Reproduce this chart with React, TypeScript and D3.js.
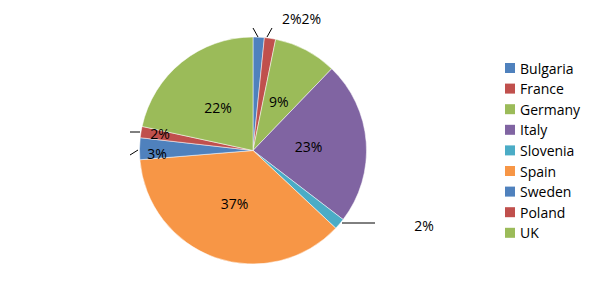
import React from "react";
import * as d3 from "d3";

const categories = ["Bulgaria", "France", "Germany", "Italy", "Slovenia", "Spain", "Sweden", "Poland", "UK"];
const values = [1.6, 1.6, 9.0, 23.2, 1.6, 36.7, 3.1, 1.6, 21.6];
const labels = ["2%", "2%", "9%", "23%", "2%", "37%", "3%", "2%", "22%"];
const colors = ["#4F81BD", "#C0504D", "#9BBB59", "#8064A2", "#4BACC6", "#F79646", "#4F81BD", "#C0504D", "#9BBB59"];

const W = 600, H = 301;
const cx = 253, cy = 150.5, R = 113.5;
const font = "'Open Sans', 'Liberation Sans', sans-serif";

export default function App() {
  const pie = d3.pie<number>().value(d => d).sort(null);
  const arcs = pie(values);
  const arc = d3.arc<d3.PieArcDatum<number>>().innerRadius(0).outerRadius(R);
  const inner = d3.arc<d3.PieArcDatum<number>>().innerRadius(R * 0.49).outerRadius(R * 0.49);

  const outsideIdx = [0, 1, 4];
  const innerFixed: Record<number, [number, number]> = {
    6: [157, 153],
    7: [160, 133],
  };

  return (
    <svg width={W} height={H} style={{ position: "absolute", left: 0, top: 0 }}>
      <rect width={W} height={H} fill="#fff" />
      <g transform={`translate(${cx},${cy})`}>
        {arcs.map((a, i) => (
          <path key={i} d={arc(a) || ""} fill={colors[i]} stroke="#fff" strokeWidth={0.5} />
        ))}
      </g>
      {arcs.map((a, i) => {
        if (outsideIdx.includes(i) || innerFixed[i]) return null;
        const [x, y] = inner.centroid(a);
        return (
          <text key={i} x={cx + x} y={cy + y} textAnchor="middle" dominantBaseline="central" fontFamily={font} fontSize={14} fill="#000">
            {labels[i]}
          </text>
        );
      })}
      {/* leader lines */}
      <polyline points="258,37 253,28" fill="none" stroke="#000" strokeWidth={1} />
      <polyline points="267,37 272,28" fill="none" stroke="#000" strokeWidth={1} />
      <polyline points="342,223 375,223" fill="none" stroke="#000" strokeWidth={1} />
      <polyline points="130,155 138,150" fill="none" stroke="#000" strokeWidth={1} />
      <polyline points="130,132 140,132" fill="none" stroke="#000" strokeWidth={1} />
      {/* 2%2% for Bulgaria/France */}
      <text x={282} y={18} dominantBaseline="central" fontFamily={font} fontSize={14} fill="#000">
        {labels[0] + labels[1]}
      </text>
      <text x={424} y={225} textAnchor="middle" dominantBaseline="central" fontFamily={font} fontSize={14} fill="#000">
        {labels[4]}
      </text>
      <text x={innerFixed[6][0]} y={innerFixed[6][1]} textAnchor="middle" dominantBaseline="central" fontFamily={font} fontSize={14} fill="#000">
        {labels[6]}
      </text>
      <text x={innerFixed[7][0]} y={innerFixed[7][1]} textAnchor="middle" dominantBaseline="central" fontFamily={font} fontSize={14} fill="#000">
        {labels[7]}
      </text>
      <g>
        {categories.map((c, i) => {
          const y = 68 + i * 20.6;
          return (
            <g key={c}>
              <rect x={505} y={y - 5} width={10} height={10} fill={colors[i]} />
              <text x={520} y={y} dominantBaseline="central" fontFamily={font} fontSize={14} fill="#000">
                {c}
              </text>
            </g>
          );
        })}
      </g>
    </svg>
  );
}
